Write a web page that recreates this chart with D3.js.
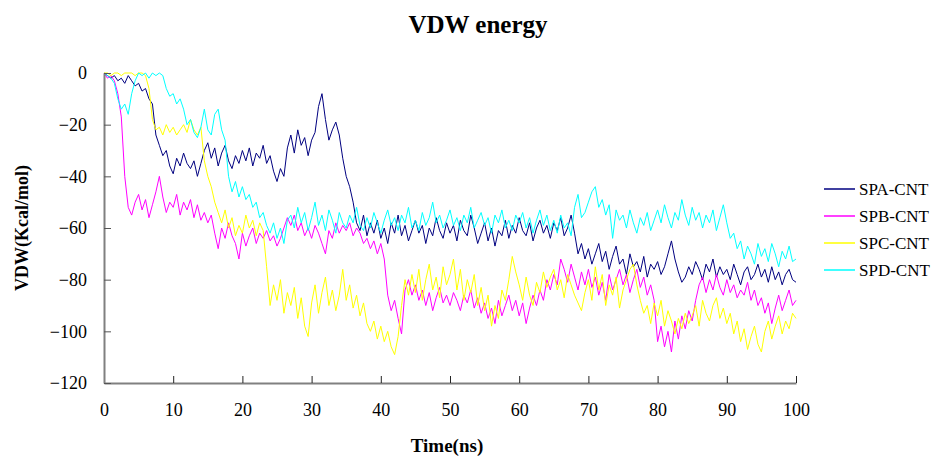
<!DOCTYPE html>
<html>
<head>
<meta charset="utf-8">
<script src="https://cdn.jsdelivr.net/npm/d3@7"></script>
<style>
  body { margin: 0; background: #fff; }
  text { font-family: "Liberation Serif", "DejaVu Serif", serif; }
</style>
</head>
<body>
<div id="chart"></div>
<script>
// sampled every 0.5 ns, 0..100
var times = d3.range(0, 100.01, 0.5);

var seriesNames = ["SPA-CNT", "SPB-CNT", "SPC-CNT", "SPD-CNT"];
var seriesColors = ["#000080", "#ff00ff", "#ffff00", "#00ffff"];

var spa = [
  0,-1,-2,-1,-3,-2,-4,-1,-3,-5,
  -4,-7,-6,-10,-12,-24,-28,-32,-30,-36,
  -39,-33,-36,-31,-35,-37,-34,-40,-35,-30,
  -27,-33,-29,-36,-31,-28,-34,-37,-32,-35,
  -30,-34,-29,-36,-31,-33,-28,-35,-32,-38,
  -42,-37,-40,-29,-24,-31,-22,-28,-25,-32,
  -26,-23,-13,-8,-18,-26,-22,-19,-24,-33,
  -40,-44,-50,-58,-61,-55,-63,-58,-62,-57,
  -64,-60,-66,-58,-62,-55,-63,-59,-65,-61,
  -57,-62,-59,-66,-60,-63,-56,-61,-64,-58,
  -62,-59,-65,-57,-61,-63,-55,-60,-66,-62,
  -58,-65,-60,-67,-61,-63,-57,-64,-59,-62,
  -56,-61,-63,-58,-65,-60,-57,-62,-59,-64,
  -58,-61,-56,-63,-60,-55,-62,-70,-66,-72,
  -68,-74,-70,-66,-73,-69,-76,-71,-67,-74,
  -72,-78,-70,-75,-73,-77,-71,-79,-74,-76,
  -73,-78,-75,-70,-65,-72,-77,-81,-79,-75,
  -78,-73,-76,-80,-74,-77,-72,-79,-75,-78,
  -76,-80,-74,-78,-82,-77,-75,-80,-78,-74,
  -79,-76,-81,-75,-80,-77,-82,-78,-76,-80,
  -81
];

var spb = [
  0,-2,-1,-3,-8,-17,-40,-52,-55,-50,
  -47,-53,-49,-56,-51,-46,-40,-48,-54,-50,
  -52,-47,-55,-50,-53,-49,-56,-51,-57,-54,
  -58,-55,-62,-68,-60,-64,-58,-63,-66,-72,
  -62,-67,-63,-60,-66,-62,-64,-61,-65,-63,
  -67,-64,-60,-56,-59,-55,-61,-58,-63,-60,
  -64,-59,-62,-66,-70,-61,-64,-58,-62,-59,
  -61,-58,-63,-60,-62,-66,-64,-68,-65,-70,
  -66,-72,-86,-92,-88,-95,-101,-84,-80,-86,
  -82,-88,-84,-90,-85,-92,-87,-83,-89,-86,
  -90,-85,-88,-92,-86,-89,-84,-91,-87,-93,
  -89,-95,-91,-97,-88,-94,-90,-86,-92,-88,
  -94,-89,-97,-91,-86,-90,-84,-88,-80,-84,
  -78,-82,-72,-76,-81,-74,-79,-84,-77,-82,
  -76,-83,-79,-86,-81,-88,-78,-84,-80,-76,
  -82,-78,-85,-80,-76,-83,-79,-86,-82,-88,
  -104,-98,-106,-100,-108,-96,-103,-94,-99,-92,
  -96,-88,-82,-79,-85,-80,-84,-78,-83,-86,
  -80,-85,-82,-87,-84,-86,-81,-88,-84,-90,
  -87,-93,-89,-97,-91,-86,-92,-88,-84,-90,
  -88
];

var spc = [
  0,0,-1,0,0,-1,0,0,0,-1,
  0,0,-1,-6,-18,-22,-21,-24,-20,-23,
  -21,-24,-22,-20,-23,-18,-22,-24,-21,-34,
  -40,-44,-50,-54,-58,-53,-60,-56,-63,-59,
  -62,-55,-60,-57,-63,-58,-61,-75,-90,-82,
  -88,-80,-93,-85,-90,-83,-95,-87,-98,-102,
  -89,-82,-93,-85,-79,-90,-84,-92,-86,-76,
  -88,-82,-91,-86,-94,-89,-97,-100,-96,-103,
  -98,-104,-100,-106,-109,-102,-90,-80,-86,-78,
  -85,-76,-88,-80,-74,-84,-79,-87,-75,-82,
  -78,-72,-84,-76,-88,-80,-85,-78,-90,-83,
  -92,-86,-98,-90,-95,-84,-88,-80,-71,-77,
  -82,-88,-79,-86,-90,-81,-85,-77,-83,-79,
  -76,-84,-80,-87,-78,-82,-86,-89,-92,-85,
  -80,-88,-75,-84,-78,-90,-82,-86,-79,-91,
  -84,-80,-76,-74,-82,-88,-93,-90,-97,-89,
  -94,-88,-98,-92,-96,-101,-95,-99,-93,-97,
  -94,-90,-98,-88,-93,-96,-90,-87,-95,-91,
  -97,-93,-101,-96,-104,-99,-107,-102,-98,-105,
  -108,-100,-96,-103,-98,-94,-101,-96,-99,-93,
  -95
];

var spd = [
  0,-1,-2,-4,-10,-14,-12,-16,-8,-3,
  0,-1,0,-2,0,-1,0,-1,-6,-9,
  -8,-12,-10,-14,-20,-18,-23,-25,-21,-14,
  -22,-24,-16,-14,-22,-26,-40,-46,-42,-48,
  -44,-49,-47,-52,-50,-56,-54,-59,-62,-58,
  -64,-60,-66,-57,-55,-60,-52,-58,-54,-61,
  -56,-50,-59,-55,-61,-53,-57,-62,-54,-58,
  -60,-55,-58,-52,-59,-61,-56,-60,-54,-58,
  -62,-57,-53,-59,-56,-61,-55,-58,-52,-60,
  -57,-61,-54,-59,-56,-50,-58,-55,-60,-57,
  -53,-59,-56,-61,-55,-58,-52,-60,-57,-54,
  -59,-56,-62,-55,-58,-53,-60,-57,-61,-55,
  -58,-54,-60,-56,-62,-57,-53,-59,-55,-61,
  -57,-62,-55,-60,-58,-63,-52,-47,-56,-54,
  -50,-46,-44,-52,-49,-55,-51,-64,-53,-57,
  -55,-60,-53,-58,-62,-56,-59,-54,-61,-57,
  -53,-58,-51,-56,-60,-54,-57,-49,-55,-59,
  -52,-57,-54,-60,-55,-58,-53,-61,-56,-51,
  -58,-64,-62,-68,-65,-72,-67,-70,-74,-66,
  -71,-68,-73,-66,-70,-75,-69,-72,-67,-73,
  -72
];

var xTicks = [0, 10, 20, 30, 40, 50, 60, 70, 80, 90, 100];
var yTicks = [0, -20, -40, -60, -80, -100, -120];

var allSeries = [spa, spb, spc, spd];

var W = 933, H = 457;
var margin = {top: 73, right: 137, bottom: 74, left: 104},
    width = W - margin.left - margin.right,
    height = H - margin.top - margin.bottom;

var svg = d3.select("#chart")
  .append("svg")
  .attr("width", W)
  .attr("height", H);

var g = svg.append("g")
  .attr("transform", "translate(" + margin.left + "," + margin.top + ")");

var x = d3.scaleLinear().domain([0, 100]).range([0, width]);
var y = d3.scaleLinear().domain([-120, 0]).range([height, 0]);

// lines
var line = d3.line()
  .x(function(d, i) { return x(times[i]); })
  .y(function(d) { return y(d); });

allSeries.forEach(function(s, k) {
  g.append("path")
    .datum(s)
    .attr("fill", "none")
    .attr("stroke", seriesColors[k])
    .attr("stroke-width", 1)
    .attr("d", line);
});

// x axis, ticks pointing up
var xAxis = g.append("g")
  .attr("transform", "translate(0," + height + ")")
  .call(d3.axisBottom(x).tickValues(xTicks).tickSizeInner(-7).tickSizeOuter(0).tickPadding(20));
xAxis.select(".domain").attr("stroke", "#808080").attr("stroke-width", 2);
xAxis.selectAll(".tick line").attr("stroke", "#222");
xAxis.selectAll("text").attr("font-size", 18).attr("fill", "#000");

// y axis, ticks pointing right
var yAxis = g.append("g")
  .call(d3.axisLeft(y).tickValues(yTicks).tickSizeInner(-7).tickSizeOuter(0).tickPadding(17));
yAxis.select(".domain").attr("stroke", "#808080").attr("stroke-width", 2);
yAxis.selectAll(".tick line").attr("stroke", "#555");
yAxis.selectAll("text").attr("font-size", 18).attr("fill", "#000");

// title
svg.append("text")
  .attr("x", 478)
  .attr("y", 33)
  .attr("text-anchor", "middle")
  .attr("font-size", 25)
  .attr("font-weight", "bold")
  .text("VDW energy");

// axis titles
svg.append("text")
  .attr("x", 447)
  .attr("y", 452)
  .attr("text-anchor", "middle")
  .attr("font-size", 19)
  .attr("font-weight", "bold")
  .text("Time(ns)");

svg.append("text")
  .attr("transform", "translate(28,228) rotate(-90)")
  .attr("text-anchor", "middle")
  .attr("font-size", 18)
  .attr("font-weight", "bold")
  .text("VDW(Kcal/mol)");

// legend
var legend = svg.append("g").attr("transform", "translate(824,189)");
seriesNames.forEach(function(name, k) {
  var row = legend.append("g").attr("transform", "translate(0," + (k * 27) + ")");
  row.append("line")
    .attr("x1", 0).attr("x2", 31)
    .attr("stroke", seriesColors[k])
    .attr("stroke-width", 1.5);
  row.append("text")
    .attr("x", 35)
    .attr("y", 6)
    .attr("font-size", 17)
    .text(name);
});
</script>
</body>
</html>
